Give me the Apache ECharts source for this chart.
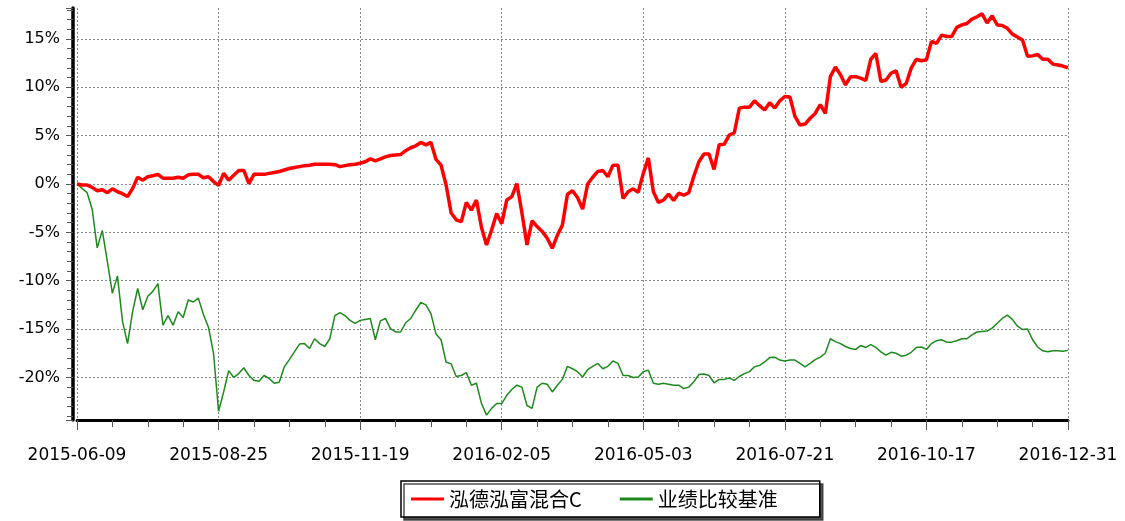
<!DOCTYPE html>
<html>
<head>
<meta charset="utf-8">
<title>泓德泓富混合C</title>
<script src="https://cdn.jsdelivr.net/npm/echarts@6/dist/echarts.min.js"></script>
<style>
  html, body { margin: 0; padding: 0; background: #fff; }
  #chart { width: 1125px; height: 521px; }
</style>
</head>
<body>
<div id="chart"></div>
<script>
// dates shown under the axis, one every `pointsPerLabel` samples
const tickLabels = ['2015-06-09', '2015-08-25', '2015-11-19', '2016-02-05',
  '2016-05-03', '2016-07-21', '2016-10-17', '2016-12-31'];
const pointsPerLabel = 28;

const fundName = '泓德泓富混合C';
const benchName = '业绩比较基准';

// cumulative return, %
const fundReturns = [
  0.0, -0.1, -0.1, -0.35, -0.7, -0.6, -0.9, -0.5, -0.8, -1.0,
  -1.3, -0.45, 0.7, 0.4, 0.75, 0.85, 1.0, 0.6, 0.6, 0.6,
  0.7, 0.6, 0.95, 1.0, 1.0, 0.65, 0.75, 0.25, -0.15, 1.1,
  0.4, 0.9, 1.4, 1.4, 0.05, 1.0, 1.0, 1.0, 1.1, 1.2,
  1.3, 1.45, 1.6, 1.7, 1.8, 1.9, 1.95, 2.05, 2.05, 2.05,
  2.05, 2.0, 1.8, 1.9, 2.0, 2.05, 2.15, 2.3, 2.6, 2.4,
  2.6, 2.8, 2.95, 3.0, 3.05, 3.45, 3.75, 3.95, 4.3, 4.05,
  4.3, 2.55, 1.95, -0.1, -3.0, -3.7, -3.9, -1.9, -2.7, -1.65,
  -4.5, -6.3, -4.75, -3.05, -4.1, -1.65, -1.3, 0.05, -3.0, -6.3,
  -3.8, -4.4, -4.9, -5.6, -6.65, -5.3, -4.25, -1.05, -0.7, -1.4,
  -2.6, 0.0, 0.7, 1.3, 1.4, 0.75, 1.95, 1.95, -1.5, -0.8,
  -0.5, -0.85, 1.1, 2.7, -0.8, -1.9, -1.65, -1.05, -1.7, -0.95,
  -1.15, -0.9, 0.8, 2.3, 3.1, 3.1, 1.5, 4.05, 4.1, 5.05,
  5.3, 7.85, 7.95, 7.95, 8.6, 8.1, 7.65, 8.4, 7.85, 8.6,
  9.05, 9.0, 7.0, 6.1, 6.2, 6.8, 7.3, 8.2, 7.3, 11.1,
  12.1, 11.3, 10.25, 11.1, 11.1, 10.95, 10.7, 12.9, 13.5, 10.6,
  10.75, 11.45, 11.7, 10.0, 10.4, 12.0, 12.9, 12.75, 12.85, 14.75,
  14.55, 15.4, 15.25, 15.25, 16.2, 16.45, 16.6, 17.05, 17.3, 17.6,
  16.65, 17.4, 16.45, 16.4, 16.1, 15.5, 15.2, 14.9, 13.2, 13.25,
  13.4, 12.9, 12.9, 12.4, 12.3, 12.2, 12.0
];

const benchReturns = [
  0.0, -0.45, -0.9, -2.6, -6.6, -4.8, -8.0, -11.3, -9.5, -14.2,
  -16.5, -13.2, -10.8, -13.0, -11.6, -11.1, -10.3, -14.6, -13.6, -14.6,
  -13.2, -13.8, -12.0, -12.2, -11.8, -13.5, -14.8, -17.5, -23.5, -21.5,
  -19.3, -20.0, -19.6, -19.0, -19.8, -20.3, -20.4, -19.8, -20.1, -20.6,
  -20.5, -18.9, -18.15, -17.35, -16.55, -16.5, -17.0, -16.0, -16.5, -16.8,
  -16.0, -13.6, -13.3, -13.6, -14.1, -14.4, -14.1, -14.0, -13.9, -16.1,
  -14.15, -13.9, -14.95, -15.3, -15.3, -14.35, -13.9, -13.05, -12.25, -12.5,
  -13.4, -15.5, -16.1, -18.4, -18.6, -19.9, -19.8, -19.5, -20.8, -20.6,
  -22.7, -23.9, -23.2, -22.7, -22.7, -21.85, -21.25, -20.8, -21.0, -22.9,
  -23.2, -21.0, -20.6, -20.7, -21.5, -20.8, -20.2, -18.85, -19.1, -19.4,
  -19.95, -19.2, -18.85, -18.55, -19.1, -18.85, -18.3, -18.55, -19.8, -19.8,
  -20.0, -19.95, -19.4, -19.25, -20.6, -20.7, -20.6, -20.7, -20.8, -20.8,
  -21.15, -21.0, -20.45, -19.7, -19.65, -19.8, -20.55, -20.2, -20.2, -20.05,
  -20.3, -19.9, -19.6, -19.4, -18.9, -18.75, -18.4, -17.95, -17.9, -18.2,
  -18.3, -18.2, -18.2, -18.55, -18.9, -18.55, -18.15, -17.9, -17.5, -16.0,
  -16.3, -16.5, -16.8, -17.0, -17.1, -16.7, -16.9, -16.6, -16.9, -17.35,
  -17.7, -17.4, -17.5, -17.8, -17.7, -17.4, -16.9, -16.85, -17.1, -16.5,
  -16.2, -16.1, -16.35, -16.35, -16.2, -16.0, -16.0, -15.6, -15.3, -15.25,
  -15.2, -14.9, -14.4, -13.9, -13.55, -14.0, -14.7, -15.05, -15.0, -16.1,
  -16.85, -17.25, -17.35, -17.25, -17.25, -17.3, -17.2
];

const chart = echarts.init(document.getElementById('chart'));

const gridLine = { show: true, lineStyle: { color: '#888', width: 1, type: [2, 2] } };

const option = {
  animation: false,
  backgroundColor: '#fff',
  grid: { left: 77, right: 57, top: 8, bottom: 101, containLabel: false },
  legend: {
    left: 401,
    top: 481,
    padding: [8, 42, 8, 10],
    itemWidth: 33,
    itemHeight: 3,
    itemGap: 38,
    icon: 'rect',
    backgroundColor: '#fff',
    borderColor: '#000',
    borderWidth: 1.5,
    shadowColor: 'rgba(60,60,60,0.9)',
    shadowBlur: 0,
    shadowOffsetX: 3,
    shadowOffsetY: 3,
    textStyle: { fontFamily: 'Noto Sans CJK SC', fontSize: 20, color: '#000' },
    data: [fundName, benchName]
  },
  xAxis: {
    type: 'value',
    min: 0,
    max: fundReturns.length - 1,
    interval: pointsPerLabel,
    axisLine: { onZero: false, lineStyle: { color: '#000', width: 3 } },
    axisTick: { show: true, length: 10, lineStyle: { color: '#555', width: 1 } },
    minorTick: { show: true, splitNumber: 4, length: 7, lineStyle: { color: '#555', width: 1 } },
    axisLabel: {
      margin: 27,
      fontFamily: 'DejaVu Sans',
      fontSize: 17,
      color: '#000',
      showMinLabel: true,
      showMaxLabel: true,
      formatter: v => tickLabels[Math.round(v / pointsPerLabel)] || ''
    },
    splitLine: gridLine
  },
  yAxis: {
    type: 'value',
    min: -24.4,
    max: 18.2,
    splitNumber: 8,
    offset: 4,
    axisLine: { show: true, onZero: false, lineStyle: { color: '#000', width: 3.5 } },
    axisTick: { show: true, length: 7, lineStyle: { color: '#555', width: 1 } },
    minorTick: { show: true, splitNumber: 5, length: 6, lineStyle: { color: '#555', width: 1 } },
    axisLabel: {
      margin: 13,
      fontFamily: 'DejaVu Sans',
      fontSize: 16,
      color: '#000',
      showMinLabel: false,
      showMaxLabel: false,
      formatter: v => v + '%'
    },
    splitLine: Object.assign({ showMinLine: false, showMaxLine: false }, gridLine)
  },
  series: [
    {
      name: fundName,
      type: 'line',
      z: 3,
      symbol: 'none',
      color: '#ff0000',
      lineStyle: { color: '#ff0000', width: 3.5 },
      data: fundReturns.map((v, i) => [i, v])
    },
    {
      name: benchName,
      type: 'line',
      z: 2,
      symbol: 'none',
      color: '#1e8a1e',
      lineStyle: { color: '#1e8a1e', width: 1.5 },
      data: benchReturns.map((v, i) => [i, v])
    }
  ]
};

chart.setOption(option);
</script>
</body>
</html>
